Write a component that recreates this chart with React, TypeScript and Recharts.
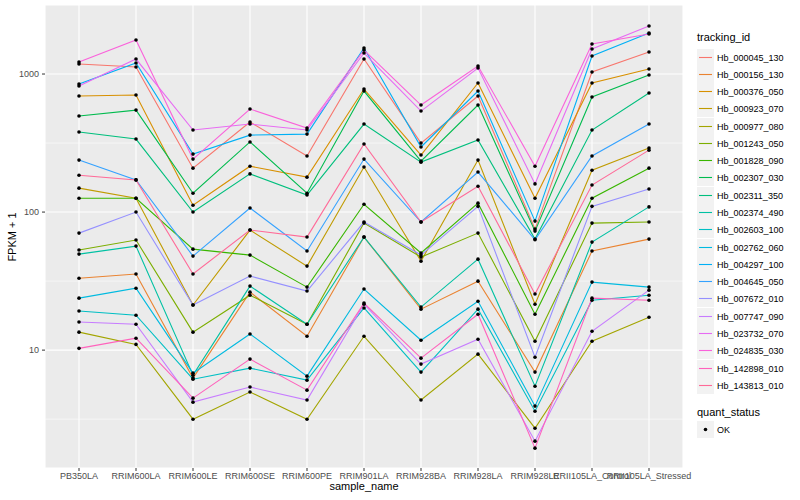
import React from "react"
import {
  LineChart,
  Line,
  XAxis,
  YAxis,
  CartesianGrid,
  ReferenceLine,
} from "recharts"

// sample order on the x axis
const samples = [
  "PB350LA",
  "RRIM600LA",
  "RRIM600LE",
  "RRIM600SE",
  "RRIM600PE",
  "RRIM901LA",
  "RRIM928BA",
  "RRIM928LA",
  "RRIM928LE",
  "RRII105LA_Control",
  "RRII105LA_Stressed",
]

// FPKM + 1 per tracking_id
const hb000045_130 = [1182, 1124, 208, 449, 255, 1284, 316, 693, 75.3, 1034, 1443]
const hb000156_130 = [33.2, 35.6, 6.27, 26.3, 12.6, 65.9, 19.8, 31.6, 6.93, 52.2, 63.7]
const hb000376_050 = [693, 704, 112, 215, 179, 778, 259, 861, 126, 861, 1087]
const hb000923_070 = [149, 126, 21.2, 74.1, 40.6, 212, 44.1, 238, 21.5, 201, 291]
const hb000977_080 = [13.5, 11.0, 3.16, 4.97, 3.16, 12.6, 4.35, 9.35, 2.72, 11.6, 17.3]
const hb001243_050 = [53.1, 62.7, 13.5, 25.0, 15.4, 83.2, 47.2, 70.4, 11.6, 83.2, 84.7]
const hb001828_090 = [126, 126, 53.9, 48.8, 28.6, 114, 50.5, 116, 18.2, 126, 208]
const hb002307_030 = [496, 548, 137, 322, 137, 753, 234, 596, 72.8, 681, 983]
const hb002311_350 = [380, 338, 100, 189, 133, 434, 230, 333, 63.7, 393, 728]
const hb002374_490 = [49.6, 56.7, 6.59, 29.1, 15.4, 65.9, 20.5, 45.6, 5.48, 60.6, 109]
const hb002603_100 = [19.2, 17.9, 6.16, 7.41, 6.06, 20.2, 6.93, 19.8, 3.61, 23.0, 25.0]
const hb002762_060 = [23.8, 28.1, 6.81, 13.1, 6.48, 27.7, 11.8, 22.6, 3.93, 31.1, 28.6]
const hb004297_100 = [846, 1202, 263, 361, 367, 1543, 296, 753, 86, 1350, 1982]
const hb004645_050 = [238, 171, 48.0, 107, 52.2, 242, 84.7, 195, 63.0, 255, 434]
const hb007672_010 = [70.4, 100, 21.2, 34.4, 26.8, 84.7, 48.8, 110, 8.89, 110, 147]
const hb007747_090 = [16.0, 15.4, 4.2, 5.4, 4.35, 21.5, 7.92, 12.0, 2.19, 13.7, 27.2]
const hb023732_070 = [818, 1284, 393, 434, 393, 1420, 539, 1105, 160, 1518, 2228]
const hb024835_030 = [1222, 1762, 242, 558, 406, 1493, 596, 1143, 215, 1649, 1950]
const hb142898_010 = [10.3, 12.2, 4.49, 8.61, 5.13, 21.9, 8.75, 18.2, 1.95, 23.8, 23.0]
const hb143813_010 = [185, 171, 35.6, 74.1, 65.9, 311, 84.7, 154, 25.5, 157, 281]

const trackingIds = [
  "Hb_000045_130",
  "Hb_000156_130",
  "Hb_000376_050",
  "Hb_000923_070",
  "Hb_000977_080",
  "Hb_001243_050",
  "Hb_001828_090",
  "Hb_002307_030",
  "Hb_002311_350",
  "Hb_002374_490",
  "Hb_002603_100",
  "Hb_002762_060",
  "Hb_004297_100",
  "Hb_004645_050",
  "Hb_007672_010",
  "Hb_007747_090",
  "Hb_023732_070",
  "Hb_024835_030",
  "Hb_142898_010",
  "Hb_143813_010",
]

const seriesValues = [
  hb000045_130, hb000156_130, hb000376_050, hb000923_070, hb000977_080,
  hb001243_050, hb001828_090, hb002307_030, hb002311_350, hb002374_490,
  hb002603_100, hb002762_060, hb004297_100, hb004645_050, hb007672_010,
  hb007747_090, hb023732_070, hb024835_030, hb142898_010, hb143813_010,
]

const yTicks = [10, 100, 1000]
const yMinor = [3.162, 31.62, 316.2]

// ggplot-style hue palette (hcl, c = 100, l = 65)
function hcl(h: number, c: number, l: number) {
  const hr = (h * Math.PI) / 180
  const U = c * Math.cos(hr)
  const V = c * Math.sin(hr)
  const un = 0.1978398
  const vn = 0.4683363
  const Y = 100 * Math.pow((l + 16) / 116, 3)
  const u = U / (13 * l) + un
  const v = V / (13 * l) + vn
  const X = (9 * Y * u) / (4 * v)
  const Z = (Y * (12 - 3 * u - 20 * v)) / (4 * v)
  const x = X / 100, y = Y / 100, z = Z / 100
  const lin = [
    3.240479 * x - 1.53715 * y - 0.498535 * z,
    -0.969256 * x + 1.875992 * y + 0.041556 * z,
    0.055648 * x - 0.204043 * y + 1.057311 * z,
  ]
  return (
    "#" +
    lin
      .map((t) => {
        const g = t <= 0.0031308 ? 12.92 * t : 1.055 * Math.pow(t, 1 / 2.4) - 0.055
        const n = Math.round(Math.min(1, Math.max(0, g)) * 255)
        return n.toString(16).padStart(2, "0")
      })
      .join("")
  )
}

const colors = trackingIds.map((_, i) => hcl(15 + (360 / trackingIds.length) * i, 100, 65))

const chartData = samples.map((s, i) => {
  const row: Record<string, any> = { sample: s }
  trackingIds.forEach((id, k) => {
    row[id] = seriesValues[k][i]
  })
  return row
})

const font = "'Liberation Sans', Arial, sans-serif"

export default function App() {
  return (
    <div
      style={{
        position: "absolute",
        left: 0,
        top: 0,
        width: 800,
        height: 500,
        background: "#fff",
        fontFamily: font,
      }}
    >
      <LineChart
        width={800}
        height={500}
        data={chartData}
        margin={{ top: 5, right: 117, bottom: 0, left: 0 }}
      >
        <CartesianGrid fill="#EBEBEB" stroke="#FFFFFF" strokeWidth={1.1} />
        {yMinor.map((v) => (
          <ReferenceLine key={v} y={v} stroke="#FFFFFF" strokeWidth={0.55} />
        ))}
        <XAxis
          dataKey="sample"
          interval={0}
          height={32}
          padding={{ left: 34, right: 34 }}
          axisLine={false}
          tickSize={3}
          tickLine={{ stroke: "#333333" }}
          tick={{ fontSize: 9, fill: "#4D4D4D", fontFamily: font }}
        />
        <YAxis
          scale="log"
          domain={[1.4, 3162]}
          allowDataOverflow
          ticks={yTicks}
          width={45}
          axisLine={false}
          tickSize={3}
          tickMargin={3}
          tickLine={{ stroke: "#333333" }}
          tick={{ fontSize: 9, fill: "#4D4D4D", fontFamily: font }}
        />
        {trackingIds.map((id, k) => (
          <Line
            key={id}
            dataKey={id}
            stroke={colors[k]}
            strokeWidth={1.1}
            dot={false}
            activeDot={false}
            isAnimationActive={false}
          />
        ))}
        {/* points drawn after all lines, like geom_point */}
        {trackingIds.map((id) => (
          <Line
            key={id + "-pt"}
            dataKey={id}
            stroke="none"
            dot={{ r: 1.8, fill: "#000000", stroke: "none" }}
            activeDot={false}
            legendType="none"
            isAnimationActive={false}
          />
        ))}
      </LineChart>

      {/* axis titles */}
      <div
        style={{
          position: "absolute",
          left: 364,
          top: 480,
          transform: "translateX(-50%)",
          fontSize: 11,
          color: "#000",
        }}
      >
        sample_name
      </div>
      <div
        style={{
          position: "absolute",
          left: 12,
          top: 237,
          transform: "translate(-50%, -50%) rotate(-90deg)",
          fontSize: 11,
          color: "#000",
          whiteSpace: "nowrap",
        }}
      >
        FPKM + 1
      </div>

      {/* legend */}
      <div style={{ position: "absolute", left: 697, top: 31, fontSize: 11 }}>tracking_id</div>
      {trackingIds.map((id, k) => (
        <div
          key={id}
          style={{
            position: "absolute",
            left: 697,
            top: Math.round(48.5 + k * 17.28),
            height: 17,
            display: "flex",
            alignItems: "center",
          }}
        >
          <svg width={17} height={17} style={{ display: "block" }}>
            <rect width={17} height={17} fill="#F2F2F2" />
            <line x1={2} x2={15} y1={8.5} y2={8.5} stroke={colors[k]} strokeWidth={1.1} />
          </svg>
          <span style={{ marginLeft: 3, fontSize: 9, color: "#000" }}>{id}</span>
        </div>
      ))}
      <div style={{ position: "absolute", left: 697, top: 406, fontSize: 11 }}>quant_status</div>
      <div
        style={{
          position: "absolute",
          left: 697,
          top: 421,
          height: 17,
          display: "flex",
          alignItems: "center",
        }}
      >
        <svg width={17} height={17} style={{ display: "block" }}>
          <rect width={17} height={17} fill="#F2F2F2" />
          <circle cx={8.5} cy={8.5} r={1.8} fill="#000" />
        </svg>
        <span style={{ marginLeft: 3, fontSize: 9, color: "#000" }}>OK</span>
      </div>
    </div>
  )
}
